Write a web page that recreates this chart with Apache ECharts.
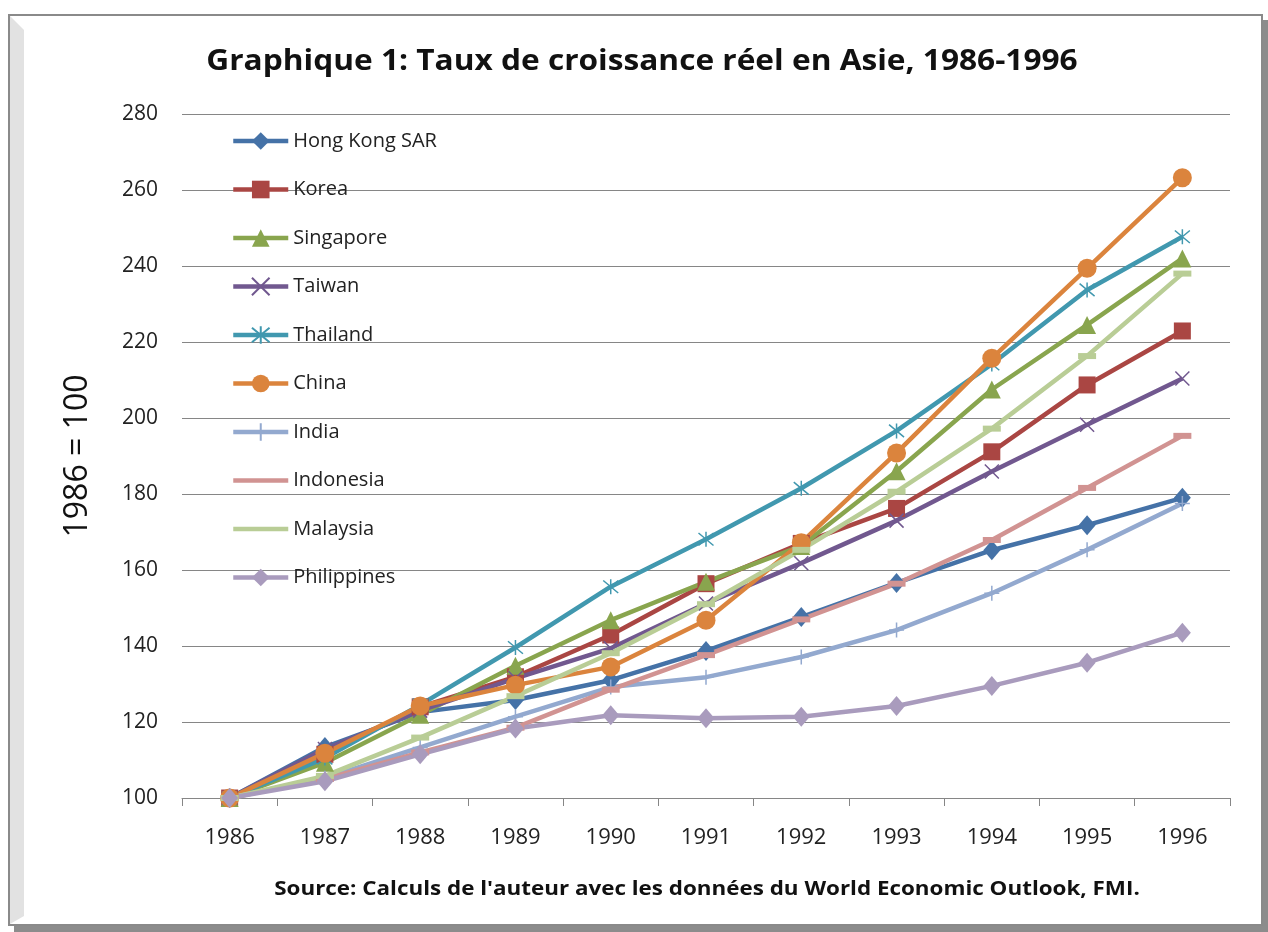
<!DOCTYPE html>
<html>
<head>
<meta charset="utf-8">
<script src="https://cdn.jsdelivr.net/npm/echarts@6/dist/echarts.min.js"></script>
<style>
  html, body { margin: 0; padding: 0; background: #fff; }
  #chart { width: 1268px; height: 932px; }
</style>
</head>
<body>
<div id="chart"></div>
<script>
// données : indice 1986 = 100
const years = ['1986', '1987', '1988', '1989', '1990', '1991', '1992', '1993', '1994', '1995', '1996'];
const hongKong    = [100, 113.4, 122.6, 125.8, 131.0, 138.7, 147.6, 156.6, 165.2, 171.8, 179.0];
const korea       = [100, 111.5, 124.0, 131.9, 142.9, 156.4, 167.0, 176.2, 191.1, 208.7, 222.9];
const singapore   = [100, 109.3, 121.9, 134.8, 146.8, 156.9, 166.3, 186.0, 207.5, 224.5, 242.0];
const taiwan      = [100, 112.9, 123.0, 131.5, 139.4, 151.2, 161.8, 173.0, 185.9, 198.2, 210.4];
const thailand    = [100, 110.5, 124.5, 139.6, 155.6, 168.1, 181.5, 196.6, 214.2, 233.7, 247.7];
const china       = [100, 111.8, 124.2, 129.7, 134.5, 146.8, 167.2, 190.8, 215.7, 239.4, 263.2];
const india       = [100, 105.2, 113.3, 121.4, 129.2, 131.8, 137.1, 144.2, 153.9, 165.3, 177.5];
const indonesia   = [100, 105.0, 112.0, 118.5, 128.5, 137.6, 147.0, 156.4, 167.9, 181.6, 195.3];
const malaysia    = [100, 105.8, 115.9, 126.8, 138.1, 151.0, 165.3, 180.6, 197.2, 216.3, 238.0];
const philippines = [100, 104.4, 111.5, 118.3, 121.8, 121.0, 121.4, 124.2, 129.5, 135.6, 143.5];

const FONT = '"Open Sans", "Noto Sans", sans-serif';

const X_PATH = 'path://M0,0L10,10M10,0L0,10';
const STAR_PATH = 'path://M0,0L10,10M10,0L0,10M5,-1L5,11';
const PLUS_PATH = 'path://M5,0L5,10M0,5L10,5';
const LEGEND_LINE = 'path://M0,0L55,0L55,4.5L0,4.5Z';

function line(name, data, color, symbol, size, stroked) {
  return {
    name: name,
    type: 'line',
    data: data,
    symbol: symbol,
    symbolSize: size,
    showAllSymbol: true,
    lineStyle: { color: color, width: 4.5 },
    itemStyle: stroked
      ? { color: color, borderColor: color, borderWidth: 1.5 }
      : { color: color, borderWidth: 0 },
    emphasis: { disabled: true },
    animation: false
  };
}

const series = [
  line('Hong Kong SAR', hongKong, '#4572A7', 'diamond', [17, 20], false),
  line('Korea', korea, '#AA4643', 'rect', 17, false),
  line('Singapore', singapore, '#89A54E', 'triangle', 18, false),
  line('Taiwan', taiwan, '#71588F', X_PATH, 14, true),
  line('Thailand', thailand, '#4198AF', STAR_PATH, 15, true),
  line('China', china, '#DB843D', 'circle', 19, false),
  line('India', india, '#93A9CF', PLUS_PATH, 15, true),
  line('Indonesia', indonesia, '#D19392', 'rect', [18, 6], false),
  line('Malaysia', malaysia, '#B9CD96', 'rect', [18, 6], false),
  line('Philippines', philippines, '#A99BBD', 'diamond', [17, 20], false)
];

// légende : trait simple pour les séries à marqueur « tiret »
const dashNames = ['Indonesia', 'Malaysia'];
const legendData = series.map(s =>
  dashNames.includes(s.name) ? { name: s.name, icon: LEGEND_LINE } : { name: s.name }
);

const chart = echarts.init(document.getElementById('chart'));
chart.setOption({
  backgroundColor: '#ffffff',
  textStyle: { fontFamily: FONT },
  graphic: [
    // cadre avec ombre
    { type: 'rect', z: -10, shape: { x: 14, y: 20, width: 1254, height: 912 }, style: { fill: '#8c8c8c' } },
    { type: 'rect', z: -9, shape: { x: 9, y: 15, width: 1253, height: 910 }, style: { fill: '#ffffff', stroke: '#8a8a8a', lineWidth: 2 } },
    { type: 'polygon', z: -8, shape: { points: [[10, 16], [24, 30], [24, 916], [10, 924]] }, style: { fill: '#e2e2e2' } },
    {
      type: 'text', x: 642, y: 62, scaleX: 1.13,
      style: {
        text: 'Graphique 1: Taux de croissance réel en Asie, 1986-1996',
        font: 'bold 28px ' + FONT, fill: '#111',
        textAlign: 'center', textVerticalAlign: 'middle'
      }
    },
    {
      type: 'text', x: 707, y: 889, scaleX: 1.12,
      style: {
        text: "Source: Calculs de l'auteur avec les données du World Economic Outlook, FMI.",
        font: 'bold 20px ' + FONT, fill: '#111',
        textAlign: 'center', textVerticalAlign: 'middle'
      }
    }
  ],
  legend: {
    orient: 'vertical',
    left: 231,
    top: 131,
    padding: 0,
    itemWidth: 55,
    itemHeight: 22,
    itemGap: 28.5,
    selectedMode: false,
    data: legendData,
    lineStyle: { width: 4.5 },
    textStyle: { fontFamily: FONT, fontSize: 20, color: '#222' }
  },
  grid: { left: 182, right: 38, top: 114, bottom: 134 },
  xAxis: {
    type: 'category',
    data: years,
    boundaryGap: true,
    axisLine: { lineStyle: { color: '#868686', width: 1 } },
    axisTick: { show: true, length: 8, lineStyle: { color: '#868686' } },
    axisLabel: { margin: 29, fontSize: 22, color: '#222', fontFamily: FONT }
  },
  yAxis: {
    type: 'value',
    min: 100,
    max: 280,
    interval: 20,
    name: '1986 = 100',
    nameLocation: 'middle',
    nameGap: 88,
    nameRotate: 90,
    nameTextStyle: { fontSize: 32, color: '#111', fontFamily: FONT },
    axisLine: { show: false },
    axisTick: { show: false },
    splitLine: { lineStyle: { color: '#868686', width: 1 } },
    axisLabel: { margin: 24, fontSize: 21, color: '#222', fontFamily: FONT }
  },
  series: series
});
</script>
</body>
</html>
